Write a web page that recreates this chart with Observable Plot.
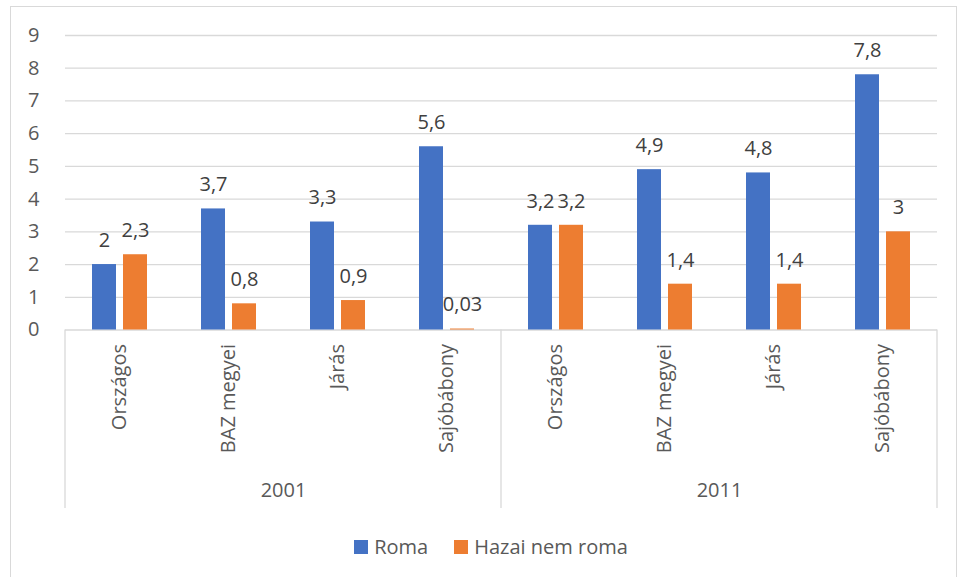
<!DOCTYPE html>
<html>
<head>
<meta charset="utf-8">
<script src="https://cdn.jsdelivr.net/npm/d3@7"></script>
<script src="https://cdn.jsdelivr.net/npm/@observablehq/plot@0.6"></script>
<style>
  body { margin: 0; background: #fff; font-family: "Open Sans", sans-serif; }
  #wrap { position: relative; width: 958px; height: 577px; overflow: hidden; }
  #border { position: absolute; left: 10px; top: 6px; width: 947px; height: 600px; border: 1px solid #d9d9d9; box-sizing: border-box; }
  #chart { position: absolute; left: 0; top: 0; }
  #legend { position: absolute; left: 0; top: 533px; width: 982px; display: flex; justify-content: center; gap: 26px; font-size: 20px; color: #595959; }
  .item { display: flex; align-items: center; gap: 6px; }
  .sw { width: 14px; height: 14px; display: inline-block; }
</style>
</head>
<body>
<div id="wrap">
  <div id="border"></div>
  <div id="chart"></div>
  <div id="legend"></div>
</div>
<script>
const years = ["2001", "2011"];
const categories = ["Országos", "BAZ megyei", "Járás", "Sajóbábony"];
const series = ["Roma", "Hazai nem roma"];
const roma = [2, 3.7, 3.3, 5.6, 3.2, 4.9, 4.8, 7.8];
const hazai = [2.3, 0.8, 0.9, 0.03, 3.2, 1.4, 1.4, 3];
const colors = ["#4472C4", "#ED7D31"];
const yTicks = [0, 1, 2, 3, 4, 5, 6, 7, 8, 9];

const keys = [];
years.forEach(y => categories.forEach(c => keys.push(y + "|" + c)));
const rows = [];
keys.forEach((k, i) => {
  rows.push({key: k, series: series[0], value: roma[i]});
  rows.push({key: k, series: series[1], value: hazai[i]});
});
const fmt = v => String(v).replace(".", ",");

const chart = Plot.plot({
  width: 958,
  height: 520,
  marginLeft: 62,
  marginRight: 18,
  marginTop: 35,
  marginBottom: 190.5,
  style: {fontFamily: "'Open Sans', sans-serif", fontSize: "20px", color: "#595959", background: "transparent"},
  fx: {domain: keys, padding: 0, axis: "bottom", tickRotate: -90, tickSize: 0, tickPadding: 14,
       tickFormat: k => k.split("|")[1], label: null},
  x: {domain: series, paddingInner: 0.22, paddingOuter: 0.85, axis: null},
  y: {domain: [0, 9], ticks: yTicks, tickSize: 0, tickPadding: 26, label: null},
  color: {domain: series, range: colors},
  marks: [
    Plot.ruleY(yTicks, {stroke: "#d9d9d9", strokeWidth: 1.3}),
    Plot.barY(rows, {fx: "key", x: "series", y: "value", fill: "series"}),
    Plot.text(rows, {fx: "key", x: "series", y: "value", text: d => fmt(d.value), dy: -24, fill: "#404040", fontSize: 20}),
    Plot.text(years, {fx: d => d + "|" + categories[1], text: d => d, frameAnchor: "bottom-right", dy: 167, textAnchor: "middle", fill: "#595959", fontSize: 20})
  ]
});

// year group dividers from the fx scale
const fx = chart.scale("fx");
const ys = chart.scale("y");
const y0 = ys.apply(0);
const bw = fx.bandwidth;
const divX = [fx.apply(keys[0]), fx.apply(keys[categories.length]), fx.apply(keys[keys.length - 1]) + bw];
const g = d3.select(chart).append("g").attr("stroke", "#d9d9d9").attr("stroke-width", 1.3);
divX.forEach(x => g.append("line").attr("x1", x).attr("x2", x).attr("y1", y0).attr("y2", y0 + 178.5));

document.getElementById("chart").appendChild(chart);

const leg = d3.select("#legend");
series.forEach((s, i) => {
  const it = leg.append("div").attr("class", "item");
  it.append("span").attr("class", "sw").style("background", colors[i]);
  it.append("span").text(s);
});
</script>
</body>
</html>
